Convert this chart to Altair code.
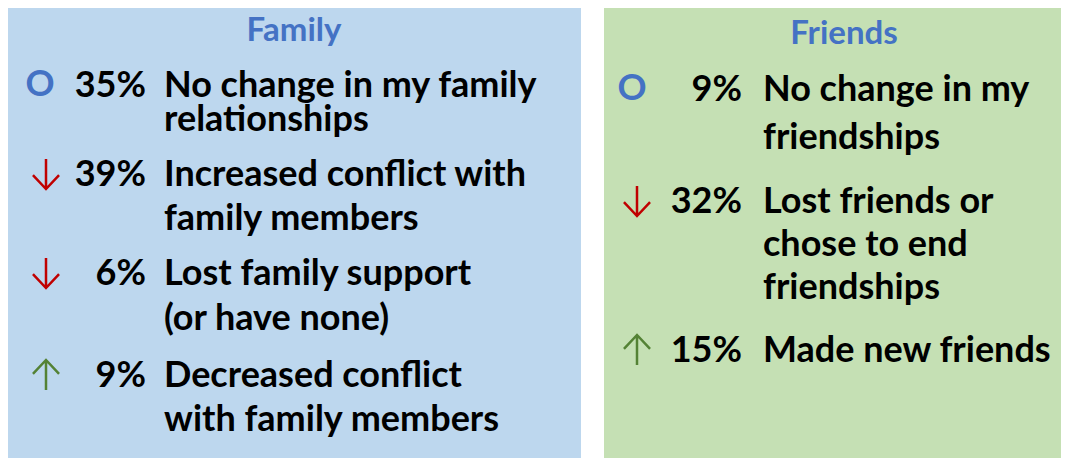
import altair as alt
import pandas as pd

# ---------------- data ----------------
family_title = "Family"
family_icons = ["O", "down", "down", "up"]
family_pcts = ["35%", "39%", "6%", "9%"]
family_lines = [
    ["No change in my family", "relationships"],
    ["Increased conflict with", "family members"],
    ["Lost family support", "(or have none)"],
    ["Decreased conflict", "with family members"],
]

friends_title = "Friends"
friends_icons = ["O", "down", "up"]
friends_pcts = ["9%", "32%", "15%"]
friends_lines = [
    ["No change in my", "friendships"],
    ["Lost friends or", "chose to end", "friendships"],
    ["Made new friends"],
]

# ---------------- layout / style ----------------
FONT = "Lato"
BODY_SIZE = 36
TITLE_SIZE = 33
CAP_HALF = 12
TITLE_BLUE = "#4472C4"
RED = "#C00000"
GREEN = "#548235"
HEIGHT = 450
SPACING = 23

DOWN_PATH = "M0,-1L0,1M-0.87,0.07L0,1L0.87,0.07"
UP_PATH = "M0,1L0,-1M-0.87,-0.07L0,-1L0.87,-0.07"

panels = [
    dict(title=family_title, icons=family_icons, pcts=family_pcts, lines=family_lines,
         width=573, fill="#BDD7EE", title_x=286, title_y=33,
         o_x=32, arrow_x=38, pct_x=138, text_x=156,
         baselines=[89, 178, 277, 379], gaps=[34, 44, 45, 44]),
    dict(title=friends_title, icons=friends_icons, pcts=friends_pcts, lines=friends_lines,
         width=457, fill="#C5E0B4", title_x=240, title_y=36,
         o_x=28, arrow_x=33, pct_x=138, text_x=159,
         baselines=[93, 205, 354], gaps=[48, 43, 43]),
]


def build_panel(p):
    W = p["width"]
    xs = alt.Scale(domain=[0, W], nice=False, zero=False)
    ys = alt.Scale(domain=[0, HEIGHT], nice=False, zero=False, reverse=True)
    X = lambda f: alt.X(f, type="quantitative", scale=xs, axis=None)
    Y = lambda f: alt.Y(f, type="quantitative", scale=ys, axis=None)

    title_df = pd.DataFrame({"x": [p["title_x"]], "y": [p["title_y"]], "t": [p["title"]]})
    pct_rows, o_rows, down_rows, up_rows = [], [], [], []
    text_groups = {}
    for i, (icon, pct, lines) in enumerate(zip(p["icons"], p["pcts"], p["lines"])):
        b = p["baselines"][i]
        pct_rows.append({"x": p["pct_x"], "y": b, "t": pct})
        text_groups.setdefault(p["gaps"][i], []).append(
            {"x": p["text_x"], "y": b, "t": "\n".join(lines)})
        iy = b - CAP_HALF
        if icon == "O":
            o_rows.append({"x": p["o_x"], "y": iy, "t": "O"})
        elif icon == "down":
            down_rows.append({"x": p["arrow_x"], "y": iy})
        else:
            up_rows.append({"x": p["arrow_x"], "y": iy})

    title = alt.Chart(title_df).mark_text(
        font=FONT, fontSize=TITLE_SIZE, fontWeight="bold", color=TITLE_BLUE,
        align="center", baseline="alphabetic"
    ).encode(x=X("x"), y=Y("y"), text="t:N")

    pct = alt.Chart(pd.DataFrame(pct_rows)).mark_text(
        font=FONT, fontSize=BODY_SIZE, fontWeight="bold", color="black",
        align="right", baseline="alphabetic"
    ).encode(x=X("x"), y=Y("y"), text="t:N")

    layers = [title, pct]
    for lh, rows in text_groups.items():
        layers.append(alt.Chart(pd.DataFrame(rows)).mark_text(
            font=FONT, fontSize=BODY_SIZE, fontWeight="bold", color="black",
            align="left", baseline="alphabetic", lineBreak="\n", lineHeight=lh
        ).encode(x=X("x"), y=Y("y"), text="t:N"))

    if o_rows:
        layers.append(alt.Chart(pd.DataFrame(o_rows)).mark_text(
            font=FONT, fontSize=BODY_SIZE, fontWeight="bold", color=TITLE_BLUE,
            align="center", baseline="middle"
        ).encode(x=X("x"), y=Y("y"), text="t:N"))
    if down_rows:
        layers.append(alt.Chart(pd.DataFrame(down_rows)).mark_point(
            shape=DOWN_PATH, size=900, filled=False, stroke=RED, strokeWidth=2.5, opacity=1
        ).encode(x=X("x"), y=Y("y")))
    if up_rows:
        layers.append(alt.Chart(pd.DataFrame(up_rows)).mark_point(
            shape=UP_PATH, size=900, filled=False, stroke=GREEN, strokeWidth=2.5, opacity=1
        ).encode(x=X("x"), y=Y("y")))

    return alt.layer(*layers).properties(
        width=W, height=HEIGHT,
        view=alt.ViewBackground(fill=p["fill"], strokeWidth=0),
    )


chart = alt.hconcat(*[build_panel(p) for p in panels], spacing=SPACING, bounds="flush").properties(
    padding=0, background="white"
).configure_view(strokeWidth=0)

chart.save("out.html", embed_options={"renderer": "svg", "actions": False})
